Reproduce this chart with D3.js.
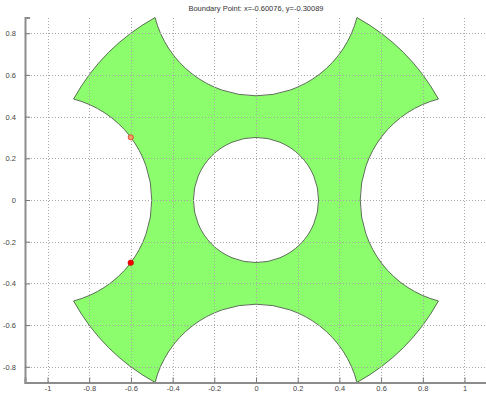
<!DOCTYPE html>
<html><head><meta charset="utf-8">
<script src="https://cdn.jsdelivr.net/npm/d3@7"></script>
<style>body{margin:0;background:#fff}svg{display:block}</style>
</head><body>
<svg id="c" width="486" height="393"></svg>
<script>
// ---- data ----
const titleText = "Boundary Point: x=-0.60076, y=-0.30089";
const xTicks = [-1, -0.8, -0.6, -0.4, -0.2, 0, 0.2, 0.4, 0.6, 0.8, 1];
const yTicks = [-0.8, -0.6, -0.4, -0.2, 0, 0.2, 0.4, 0.6, 0.8];
const xDomain = [-1.108, 1.108];
const yDomain = [-0.875, 0.875];
const outerRadius = 1.0;               // outer boundary circle
const biteCenters = [[1,0],[0,1],[-1,0],[0,-1]]; // circles removed from the edge
const biteRadius = 0.5;
const holeCenter = [0,0];
const holeRadius = 0.3;
const currentPoint = [-0.60076, -0.30089];  // filled marker
const previousPoint = [-0.60076, 0.30089];  // open marker

// ---- layout ----
const svg = d3.select("#c");
const x = d3.scaleLinear().domain(xDomain).range([25, 487]);
const y = d3.scaleLinear().domain(yDomain).range([382.4, 17.6]);
const px = r => x(r) - x(0);

// ---- shape ----
const p = d3.path();
const n = biteCenters.length;
const d = biteCenters.map(c => {
  const dist = Math.hypot(c[0], c[1]);
  const cosd = (outerRadius*outerRadius + dist*dist - biteRadius*biteRadius) / (2*outerRadius*dist);
  return Math.acos(cosd);
});
const alpha = biteCenters.map(c => Math.atan2(c[1], c[0]));
for (let k = 0; k < n; k++) {
  const k1 = (k + 1) % n;
  let a0 = alpha[k] + d[k];
  let a1 = alpha[k1] - d[k1];
  while (a1 < a0) a1 += 2*Math.PI;
  if (k === 0) p.moveTo(x(outerRadius*Math.cos(a0)), y(outerRadius*Math.sin(a0)));
  p.arc(x(0), y(0), px(outerRadius), -a0, -a1, true);
  const c = biteCenters[k1];
  const v1 = [outerRadius*Math.cos(alpha[k1]-d[k1]), outerRadius*Math.sin(alpha[k1]-d[k1])];
  const v2 = [outerRadius*Math.cos(alpha[k1]+d[k1]), outerRadius*Math.sin(alpha[k1]+d[k1])];
  const b1 = Math.atan2(v1[1]-c[1], v1[0]-c[0]);
  const b2 = Math.atan2(v2[1]-c[1], v2[0]-c[0]);
  p.arc(x(c[0]), y(c[1]), px(biteRadius), -b1, -b2, false);
}
p.closePath();
p.moveTo(x(holeCenter[0]+holeRadius), y(holeCenter[1]));
p.arc(x(holeCenter[0]), y(holeCenter[1]), px(holeRadius), 0, 2*Math.PI, false);
p.closePath();

svg.append("path").attr("d", p.toString())
  .attr("fill", "#8cfd6c").attr("fill-rule", "evenodd")
  .attr("stroke", "#4f5f4a").attr("stroke-width", 0.9);

// ---- grid (drawn over the fill) ----
const g = svg.append("g").attr("stroke", "#a8a8a8").attr("stroke-width", 1)
  .attr("stroke-dasharray", "1,2").attr("shape-rendering", "crispEdges");
xTicks.forEach(t => g.append("line").attr("x1", Math.round(x(t))+0.5).attr("x2", Math.round(x(t))+0.5)
  .attr("y1", y(yDomain[1])).attr("y2", y(yDomain[0])));
yTicks.forEach(t => g.append("line").attr("y1", Math.round(y(t))+0.5).attr("y2", Math.round(y(t))+0.5)
  .attr("x1", x(xDomain[0])).attr("x2", 486));

// ---- markers ----
svg.append("circle").attr("cx", x(previousPoint[0])).attr("cy", y(previousPoint[1])).attr("r", 2.6)
  .attr("fill", "#f0a060").attr("stroke", "#e03030").attr("stroke-width", 0.8);
svg.append("circle").attr("cx", x(currentPoint[0])).attr("cy", y(currentPoint[1])).attr("r", 2.8)
  .attr("fill", "#ee0000").attr("stroke", "#cc0000").attr("stroke-width", 0.6);

// ---- axes ----
const xa = svg.append("g").attr("transform", `translate(0,${y(yDomain[0])})`)
  .call(d3.axisBottom(x).tickValues(xTicks).tickSize(-5).tickPadding(3).tickFormat(d => String(d)));
const ya = svg.append("g").attr("transform", `translate(${x(xDomain[0])},0)`)
  .call(d3.axisLeft(y).tickValues(yTicks).tickSize(-5).tickPadding(9).tickFormat(d => String(d)));
[xa, ya].forEach(a => {
  a.select(".domain").attr("stroke", "#8c8c8c").attr("stroke-width", 2);
  a.selectAll(".tick line").attr("stroke", "#777");
  a.selectAll("text").attr("fill", "#444").style("font-family", "Liberation Sans, Arial, sans-serif").style("font-size", "7.5px");
});

// ---- title ----
svg.append("text").attr("x", 256).attr("y", 11).attr("text-anchor", "middle")
  .attr("fill", "#333").style("font-family", "Liberation Sans, Arial, sans-serif").style("font-size", "7.5px")
  .text(titleText);
</script>
</body></html>
